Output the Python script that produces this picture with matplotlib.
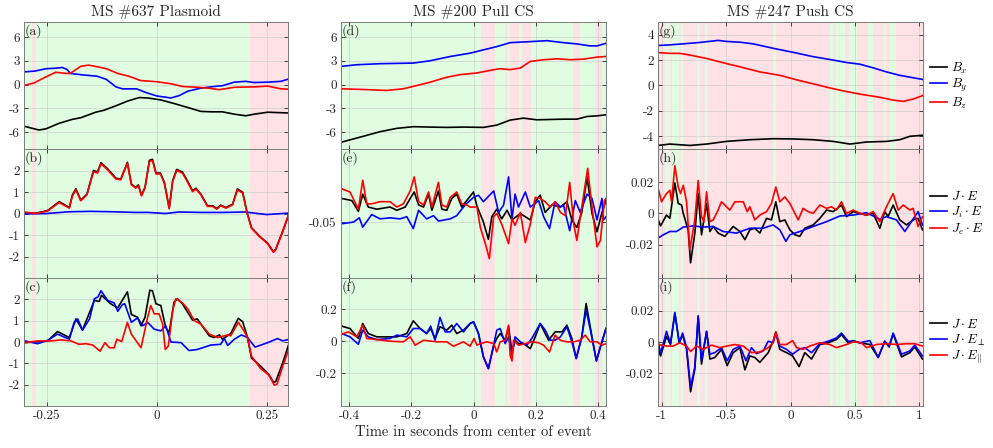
import matplotlib
matplotlib.use("Agg")
import matplotlib.pyplot as plt

plt.rcParams['font.family'] = ['cmr10', 'DejaVu Serif']
plt.rcParams['mathtext.fontset'] = 'cm'
plt.rcParams['axes.unicode_minus'] = False

# ---------------- column 1 : MS #637 Plasmoid ----------------
t_a_bx = [-0.30, -0.268, -0.252, -0.222, -0.192, -0.173, -0.139, -0.12, -0.089, -0.067, -0.04, -0.021,
          0.009, 0.039, 0.07, 0.1, 0.123, 0.149, 0.176, 0.202, 0.221, 0.252, 0.30]
a_bx = [-5.3, -5.75, -5.6, -4.9, -4.4, -4.2, -3.5, -3.25, -2.6, -2.1, -1.65, -1.7,
        -1.95, -2.4, -2.9, -3.4, -3.45, -3.45, -3.75, -3.95, -3.75, -3.5, -3.6]
t_a_by = [-0.30, -0.277, -0.252, -0.233, -0.215, -0.204, -0.197, -0.166, -0.136, -0.115, -0.093, -0.078,
          -0.046, -0.023, 0.0, 0.032, 0.051, 0.07, 0.1, 0.13, 0.149, 0.176, 0.202, 0.221, 0.252, 0.282, 0.30]
a_by = [1.6, 1.7, 2.0, 2.05, 2.15, 1.9, 1.4, 1.2, 1.05, 0.65, -0.3, -0.55,
        -0.55, -1.05, -1.45, -1.7, -1.4, -0.85, -0.45, -0.25, -0.15, 0.3, 0.4, 0.25, 0.3, 0.4, 0.7]
t_a_bz = [-0.30, -0.279, -0.256, -0.23, -0.207, -0.197, -0.173, -0.155, -0.136, -0.115, -0.089, -0.064,
          -0.037, 0.0, 0.032, 0.058, 0.093, 0.116, 0.142, 0.176, 0.221, 0.252, 0.282, 0.30]
a_bz = [-0.1, 0.2, 0.85, 1.55, 1.4, 1.4, 2.3, 2.45, 2.25, 2.0, 1.4, 1.05,
        0.5, 0.35, 0.1, -0.25, -0.35, -0.45, -0.65, -0.35, -0.3, -0.2, -0.55, -0.6]

t_b = [-0.299, -0.275, -0.248, -0.222, -0.199, -0.192, -0.184, -0.173, -0.159, -0.144,
       -0.135, -0.127, -0.112, -0.093, -0.082, -0.067, -0.058, -0.048, -0.042, -0.035,
       -0.027, -0.017, -0.01, -0.002, 0.008, 0.017, 0.028, 0.036, 0.045, 0.058,
       0.066, 0.081, 0.089, 0.1, 0.115, 0.127, 0.136, 0.145, 0.157, 0.172,
       0.183, 0.195, 0.205, 0.215, 0.233, 0.252, 0.265, 0.27, 0.286, 0.301]
b_tot = [0.04, 0.01, 0.14, 0.55, 0.28, 0.86, 1.15, 0.62, 0.9, 2.0,
         1.93, 2.36, 2.08, 1.64, 1.6, 2.38, 1.37, 1.22, 1.33, 0.85,
         1.22, 2.47, 2.52, 1.88, 1.88, 1.45, 0.25, 1.54, 2.05, 1.93,
         1.65, 1.06, 1.17, 0.9, 0.36, 0.36, 0.23, 0.39, 0.28, 0.43,
         1.14, 0.99, 0.04, -0.66, -1.05, -1.39, -1.78, -1.66, -0.82, 0.02]
b_je = [0.06, 0.0, 0.12, 0.51, 0.25, 0.82, 1.1, 0.59, 0.87, 1.95,
        1.88, 2.31, 2.03, 1.6, 1.57, 2.34, 1.33, 1.18, 1.29, 0.82,
        1.18, 2.42, 2.47, 1.84, 1.84, 1.41, 0.22, 1.49, 2.0, 1.88,
        1.6, 1.02, 1.13, 0.87, 0.33, 0.33, 0.2, 0.36, 0.25, 0.4,
        1.1, 0.95, 0.02, -0.68, -1.07, -1.41, -1.81, -1.69, -0.84, 0.02]
t_b_ji = [-0.3, -0.25, -0.2, -0.15, -0.1, -0.05, -0.02, 0.02, 0.05, 0.1, 0.15, 0.2, 0.25, 0.3]
b_ji = [-0.02, 0.0, 0.08, 0.1, 0.08, 0.05, 0.05, 0.0, 0.07, 0.05, 0.05, 0.07, -0.05, 0.02]

t_c_tot = [-0.299, -0.248, -0.226, -0.199, -0.184, -0.169, -0.142, -0.131, -0.126, -0.105, -0.089,
           -0.067, -0.058, -0.044, -0.036, -0.027, -0.016, -0.01, -0.002, 0.009, 0.02, 0.028,
           0.039, 0.047, 0.058, 0.081, 0.092, 0.1, 0.119, 0.13, 0.142, 0.149, 0.168, 0.185,
           0.195, 0.206, 0.215, 0.236, 0.254, 0.265, 0.27, 0.286, 0.301]
c_tot = [-0.03, 0.05, 0.49, 0.21, 1.08, 0.56, 1.95, 1.9, 2.19, 1.79, 1.6,
         2.35, 1.29, 1.16, 0.76, 1.16, 2.43, 2.4, 1.79, 1.71, 0.68, 0.44,
         1.87, 2.03, 1.79, 1.03, 1.08, 0.84, 0.29, 0.21, 0.33, 0.13, 0.4, 1.11,
         0.95, 0.21, -0.75, -1.14, -1.51, -1.89, -1.86, -0.98, -0.03]
t_c_perp = [-0.3, -0.271, -0.248, -0.226, -0.199, -0.188, -0.18, -0.169, -0.153, -0.142, -0.134,
            -0.127, -0.112, -0.097, -0.089, -0.078, -0.073, -0.058, -0.044, -0.032, -0.021, -0.006,
            0.009, 0.02, 0.032, 0.055, 0.073, 0.092, 0.123, 0.145, 0.153, 0.161, 0.176, 0.192,
            0.206, 0.223, 0.252, 0.274, 0.286, 0.301]
c_perp = [0.05, -0.08, 0.08, 0.37, 0.13, 0.92, 1.08, 0.56, 1.08, 2.03, 2.11,
          2.4, 1.95, 1.83, 1.44, 1.76, 1.79, 0.92, 1.13, 0.76, 0.92, 0.6,
          0.52, 0.76, 0.0, -0.03, -0.4, -0.35, -0.14, -0.11, 0.17, -0.16, 0.13, 0.33,
          0.21, -0.24, -0.03, 0.16, 0.05, 0.13]
t_c_par = [-0.3, -0.271, -0.241, -0.218, -0.195, -0.177, -0.161, -0.146, -0.129, -0.118, -0.108,
           -0.097, -0.091, -0.08, -0.067, -0.058, -0.036, -0.021, -0.014, -0.006, 0.005, 0.013,
           0.019, 0.026, 0.036, 0.043, 0.058, 0.07, 0.085, 0.1, 0.119, 0.138, 0.161, 0.168,
           0.185, 0.198, 0.206, 0.215, 0.236, 0.254, 0.267, 0.273, 0.286, 0.301]
c_par = [-0.03, 0.05, 0.05, 0.1, 0.05, -0.11, -0.08, -0.14, -0.43, -0.03, -0.27,
         -0.27, 0.13, 0.02, 0.92, 0.37, -0.27, 1.16, 1.71, 1.32, 1.32, 0.84,
         -0.35, -0.19, 1.48, 2.03, 1.83, 1.56, 1.0, 0.84, 0.37, 0.21, 0.33, 0.29,
         0.92, 0.52, 0.21, -0.67, -1.25, -1.54, -2.02, -1.98, -1.14, -0.27]

# ---------------- column 2 : MS #200 Pull CS ----------------
t_d_bx = [-0.427, -0.355, -0.301, -0.247, -0.194, -0.14, -0.086, -0.032, 0.032, 0.075, 0.118,
          0.161, 0.204, 0.29, 0.333, 0.366, 0.398, 0.427]
d_bx = [-7.3, -6.54, -5.96, -5.54, -5.33, -5.38, -5.42, -5.38, -5.42, -5.13, -4.5,
        -4.25, -4.46, -4.38, -4.38, -4.04, -3.96, -3.83]
t_d_by = [-0.427, -0.376, -0.301, -0.194, -0.14, -0.075, -0.011, 0.032, 0.075, 0.118, 0.183,
          0.237, 0.29, 0.333, 0.376, 0.398, 0.427]
d_by = [2.29, 2.5, 2.63, 2.71, 3.0, 3.54, 3.96, 4.38, 4.79, 5.29, 5.42,
        5.54, 5.29, 5.13, 4.88, 4.88, 5.21]
t_d_bz = [-0.427, -0.355, -0.28, -0.226, -0.183, -0.14, -0.086, -0.043, 0.011, 0.054, 0.086,
          0.118, 0.151, 0.183, 0.226, 0.269, 0.312, 0.355, 0.398, 0.427]
d_bz = [-0.54, -0.63, -0.75, -0.54, -0.13, 0.29, 0.92, 1.25, 1.46, 1.79, 2.0,
        1.88, 2.08, 2.92, 3.13, 3.25, 3.13, 3.21, 3.46, 3.54]

t_e_tot = [-0.425, -0.392, -0.371, -0.357, -0.339, -0.312, -0.269, -0.247, -0.22, -0.204, -0.191,
           -0.177, -0.161, -0.145, -0.134, -0.113, -0.102, -0.086, -0.07, -0.054, -0.038, -0.022,
           0.0, 0.011, 0.032, 0.048, 0.059, 0.075, 0.091, 0.108, 0.124, 0.151, 0.183, 0.199,
           0.215, 0.231, 0.253, 0.28, 0.301, 0.317, 0.333, 0.349, 0.366, 0.382, 0.398, 0.414, 0.427]
e_tot = [-0.028, -0.03, -0.04, -0.024, -0.036, -0.038, -0.036, -0.039, -0.036, -0.028, -0.022,
         -0.034, -0.036, -0.024, -0.039, -0.021, -0.038, -0.039, -0.028, -0.024, -0.036, -0.03,
         -0.022, -0.035, -0.05, -0.066, -0.045, -0.038, -0.047, -0.039, -0.048, -0.042, -0.048, -0.031,
         -0.025, -0.041, -0.034, -0.036, -0.031, -0.048, -0.055, -0.041, -0.008, -0.042, -0.059, -0.041, -0.03]
t_e_ji = [-0.425, -0.387, -0.368, -0.357, -0.328, -0.301, -0.269, -0.237, -0.215, -0.194, -0.177,
          -0.151, -0.129, -0.113, -0.075, -0.054, -0.027, 0.0, 0.016, 0.032, 0.065, 0.081,
          0.097, 0.113, 0.124, 0.134, 0.145, 0.167, 0.183, 0.21, 0.226, 0.245, 0.263, 0.28,
          0.29, 0.31, 0.328, 0.344, 0.366, 0.382, 0.398, 0.414, 0.419, 0.427]
e_ji = [-0.0515, -0.05, -0.046, -0.0547, -0.043, -0.047, -0.046, -0.047, -0.045, -0.056, -0.039,
        -0.047, -0.044, -0.049, -0.047, -0.044, -0.034, -0.027, -0.025, -0.031, -0.021, -0.041,
        -0.034, -0.008, -0.047, -0.024, -0.036, -0.022, -0.036, -0.03, -0.045, -0.056, -0.031, -0.036,
        -0.034, -0.058, -0.03, -0.041, -0.024, -0.028, -0.048, -0.028, -0.048, -0.045]
t_e_je = [-0.425, -0.398, -0.371, -0.357, -0.344, -0.328, -0.301, -0.269, -0.247, -0.226, -0.204,
          -0.191, -0.177, -0.161, -0.145, -0.134, -0.113, -0.102, -0.086, -0.075, -0.054, -0.038,
          -0.022, -0.011, 0.011, 0.022, 0.038, 0.051, 0.065, 0.075, 0.091, 0.113, 0.124, 0.134,
          0.151, 0.167, 0.183, 0.199, 0.215, 0.231, 0.247, 0.263, 0.28, 0.296, 0.31, 0.323,
          0.333, 0.349, 0.368, 0.382, 0.398, 0.409, 0.422, 0.427]
e_je = [-0.019, -0.022, -0.038, -0.011, -0.033, -0.033, -0.031, -0.031, -0.036, -0.033, -0.021,
        -0.008, -0.031, -0.034, -0.022, -0.036, -0.013, -0.034, -0.036, -0.027, -0.022, -0.033,
        -0.034, -0.036, -0.036, -0.055, -0.07, -0.084, -0.045, -0.042, -0.052, -0.07, -0.047, -0.053,
        -0.041, -0.069, -0.052, -0.027, -0.028, -0.031, -0.036, -0.031, -0.041, -0.044, -0.013, -0.052,
        -0.067, -0.036, 0.0, -0.036, -0.073, -0.067, -0.03, -0.028]

t_f_tot = [-0.425, -0.398, -0.371, -0.357, -0.339, -0.312, -0.28, -0.247, -0.215, -0.194, -0.172,
           -0.151, -0.138, -0.124, -0.108, -0.086, -0.07, -0.054, -0.032, -0.011, 0.0, 0.016,
           0.032, 0.048, 0.065, 0.075, 0.086, 0.102, 0.113, 0.124, 0.134, 0.145, 0.161, 0.183,
           0.199, 0.215, 0.231, 0.242, 0.263, 0.285, 0.301, 0.317, 0.331, 0.349, 0.363, 0.378,
           0.396, 0.409, 0.427]
f_tot = [0.094, 0.079, 0.017, 0.11, 0.048, 0.027, 0.027, 0.027, 0.048, 0.127, 0.079,
         0.048, 0.079, 0.017, 0.09, 0.069, 0.1, 0.048, 0.069, 0.11, 0.121, 0.048,
         -0.098, -0.171, -0.025, 0.017, 0.048, 0.006, 0.09, -0.067, 0.006, -0.015, -0.015, -0.046,
         0.027, 0.11, 0.048, 0.006, 0.058, 0.058, 0.1, 0.017, -0.108, 0.027, 0.235, 0.069,
         -0.123, -0.035, 0.079]
t_f_perp = [-0.425, -0.398, -0.371, -0.357, -0.339, -0.312, -0.269, -0.247, -0.215, -0.194, -0.172,
            -0.151, -0.138, -0.124, -0.108, -0.091, -0.075, -0.054, -0.032, -0.011, 0.0, 0.016,
            0.032, 0.048, 0.065, 0.075, 0.086, 0.102, 0.113, 0.124, 0.134, 0.151, 0.172, 0.188,
            0.215, 0.231, 0.247, 0.263, 0.28, 0.301, 0.317, 0.331, 0.349, 0.363, 0.378, 0.396,
            0.409, 0.427]
f_perp = [0.048, 0.027, -0.019, 0.069, 0.027, 0.01, 0.017, 0.038, 0.027, 0.079, 0.079,
          0.048, 0.094, 0.006, 0.148, 0.058, 0.058, 0.11, 0.058, 0.11, 0.121, 0.048,
          -0.098, -0.171, -0.025, 0.069, 0.079, -0.015, 0.027, -0.088, 0.027, -0.004, -0.025, 0.017,
          0.11, 0.069, 0.006, 0.006, 0.027, 0.09, -0.004, -0.108, 0.027, 0.194, 0.058, -0.123,
          -0.035, 0.079]
t_f_par = [-0.425, -0.403, -0.376, -0.357, -0.344, -0.312, -0.269, -0.226, -0.204, -0.188, -0.161,
           -0.118, -0.086, -0.065, -0.032, -0.011, 0.002, 0.011, 0.022, 0.043, 0.065, 0.075,
           0.086, 0.102, 0.113, 0.118, 0.124, 0.129, 0.145, 0.167, 0.188, 0.21, 0.226, 0.245,
           0.263, 0.28, 0.301, 0.323, 0.344, 0.36, 0.376, 0.398, 0.414, 0.427]
f_par = [0.044, 0.058, 0.027, 0.1, 0.017, 0.01, 0.0, -0.004, 0.027, -0.025, 0.006,
         -0.004, -0.004, -0.031, -0.004, -0.031, 0.017, -0.025, -0.015, -0.004, -0.015, -0.067,
         -0.004, 0.006, 0.1, -0.088, -0.123, 0.006, -0.025, -0.015, -0.004, -0.01, -0.025, -0.067,
         0.038, 0.006, -0.004, -0.004, 0.006, 0.038, -0.004, -0.004, -0.025, -0.015]

# ---------------- column 3 : MS #247 Push CS ----------------
t_g_bx = [-1.027, -0.937, -0.782, -0.652, -0.497, -0.316, -0.135, 0.021, 0.176, 0.331, 0.461,
          0.59, 0.745, 0.849, 0.927, 1.025]
g_bx = [-4.72, -4.61, -4.72, -4.61, -4.4, -4.27, -4.19, -4.21, -4.27, -4.4, -4.61,
        -4.45, -4.4, -4.27, -4.0, -3.92]
t_g_by = [-1.027, -0.937, -0.833, -0.704, -0.562, -0.497, -0.393, -0.29, -0.135, 0.021, 0.176,
          0.305, 0.435, 0.538, 0.642, 0.745, 0.849, 0.952, 1.025]
g_by = [3.15, 3.2, 3.28, 3.39, 3.55, 3.47, 3.41, 3.28, 2.93, 2.61, 2.27,
        2.05, 1.81, 1.68, 1.39, 1.07, 0.8, 0.61, 0.48]
t_g_bz = [-1.027, -0.937, -0.859, -0.782, -0.652, -0.523, -0.393, -0.238, -0.083, 0.047, 0.176,
          0.305, 0.435, 0.564, 0.694, 0.797, 0.875, 0.952, 1.025]
g_bz = [2.59, 2.53, 2.53, 2.4, 2.13, 1.79, 1.47, 1.07, 0.8, 0.45, 0.13,
        -0.19, -0.48, -0.72, -0.93, -1.15, -1.25, -1.07, -0.8]

t_h_tot = [-1.027, -1.009, -0.963, -0.937, -0.898, -0.872, -0.846, -0.833, -0.795, -0.776, -0.743,
           -0.717, -0.691, -0.652, -0.626, -0.6, -0.562, -0.51, -0.445, -0.393, -0.354, -0.316,
           -0.277, -0.238, -0.186, -0.148, -0.114, -0.083, -0.044, -0.005, 0.034, 0.072, 0.111,
           0.176, 0.228, 0.28, 0.331, 0.396, 0.435, 0.487, 0.538, 0.59, 0.642, 0.694, 0.732,
           0.758, 0.797, 0.849, 0.901, 0.952, 0.991, 1.025]
h_tot = [-0.0042, -0.008, -0.0011, -0.0032, 0.0194, 0.0063, 0.0053, 0.0, -0.0105, -0.0316, -0.0126,
         0.0126, -0.0137, 0.0063, -0.0116, -0.0084, -0.0126, -0.0147, -0.0084, -0.0116, -0.0168, -0.0105,
         -0.0095, -0.0126, -0.0032, -0.0042, 0.0074, -0.0053, -0.0042, -0.0105, -0.0137, -0.0147, -0.0095,
         -0.0074, -0.0032, 0.0021, 0.0011, 0.0053, -0.0021, 0.0011, 0.0, -0.0011, 0.0, -0.0095, 0.0011,
         -0.0021, 0.0053, -0.0042, -0.0074, -0.0042, -0.0032, -0.0105]
t_h_ji = [-1.027, -0.988, -0.937, -0.885, -0.833, -0.756, -0.678, -0.6, -0.523, -0.419, -0.316,
          -0.212, -0.135, -0.083, -0.036, -0.005, 0.072, 0.176, 0.28, 0.383, 0.487, 0.59,
          0.694, 0.745, 0.823, 0.888, 0.939, 0.991, 1.025]
h_ji = [-0.0158, -0.0137, -0.0116, -0.0116, -0.0088, -0.008, -0.0088, -0.0084, -0.0116, -0.0126, -0.0095,
        -0.0095, -0.0074, -0.0105, -0.0179, -0.0137, -0.0116, -0.0084, -0.0053, -0.0017, -0.0011, 0.0004,
        -0.0038, -0.0021, -0.0042, -0.0116, -0.0053, 0.0011, -0.0074]
t_h_je = [-1.027, -1.002, -0.963, -0.937, -0.924, -0.898, -0.872, -0.854, -0.833, -0.807, -0.782,
          -0.743, -0.717, -0.691, -0.673, -0.652, -0.626, -0.6, -0.562, -0.536, -0.471, -0.432,
          -0.367, -0.336, -0.316, -0.277, -0.238, -0.186, -0.148, -0.114, -0.083, -0.044, -0.005,
          0.06, 0.098, 0.137, 0.176, 0.228, 0.28, 0.318, 0.357, 0.396, 0.435, 0.487, 0.538,
          0.59, 0.642, 0.694, 0.745, 0.797, 0.836, 0.875, 0.927, 0.952, 0.991, 1.025]
h_je = [0.0158, 0.0074, 0.0126, 0.0147, 0.0074, 0.0305, 0.0168, 0.0126, 0.0179, 0.0074, -0.0232,
        -0.0042, 0.021, -0.0021, -0.0053, 0.0137, -0.0053, -0.0042, 0.0021, 0.0074, 0.0021, 0.0074,
        0.0074, 0.0011, 0.0042, -0.0042, -0.0011, 0.0011, 0.0063, 0.0168, 0.0074, 0.0105, 0.0063,
        -0.0042, 0.0032, 0.0011, 0.0, 0.0053, 0.0032, 0.0042, 0.0021, 0.0074, 0.0, 0.0021, 0.0,
        -0.0011, 0.0011, -0.0053, 0.0042, 0.0126, 0.0021, 0.0053, 0.0021, 0.0032, -0.0084, -0.0021]

t_i_tot = [-1.027, -1.009, -0.963, -0.932, -0.898, -0.864, -0.838, -0.807, -0.776, -0.743, -0.717,
           -0.691, -0.652, -0.626, -0.588, -0.536, -0.492, -0.445, -0.393, -0.354, -0.316, -0.277,
           -0.238, -0.173, -0.135, -0.114, -0.083, -0.031, 0.016, 0.067, 0.111, 0.163, 0.228,
           0.292, 0.357, 0.396, 0.448, 0.487, 0.538, 0.616, 0.681, 0.732, 0.766, 0.797, 0.862,
           0.927, 0.965, 1.025]
i_tot = [-0.0046, -0.0088, 0.0037, -0.0015, 0.0183, -0.0004, 0.0048, -0.0046, -0.0317, -0.0171, 0.0163,
         -0.014, 0.0069, -0.0108, -0.0098, -0.0046, -0.015, -0.0067, -0.0035, -0.0177, -0.0088, -0.0098,
         -0.0129, -0.0067, 0.0006, 0.0065, -0.0046, -0.0067, -0.0088, -0.0156, -0.0067, -0.0108, -0.0015,
         -0.0004, 0.0017, 0.0048, -0.0004, 0.001, -0.0004, -0.0015, -0.0098, 0.0006, -0.0031, 0.0052, -0.0094,
         -0.0067, -0.0031, -0.0108]
t_i_perp = [-1.027, -1.009, -0.963, -0.932, -0.898, -0.864, -0.838, -0.807, -0.776, -0.743, -0.717,
            -0.691, -0.652, -0.626, -0.588, -0.536, -0.492, -0.445, -0.393, -0.346, -0.303, -0.264,
            -0.212, -0.173, -0.135, -0.114, -0.083, -0.031, 0.016, 0.067, 0.111, 0.163, 0.228,
            0.292, 0.357, 0.396, 0.448, 0.487, 0.538, 0.616, 0.681, 0.732, 0.766, 0.797, 0.862,
            0.927, 0.965, 1.025]
i_perp = [0.0006, -0.0073, 0.0069, -0.001, 0.019, -0.0004, 0.0058, -0.0035, -0.0285, -0.016, 0.0169,
          -0.0119, 0.0069, -0.0077, -0.0067, -0.0035, -0.0119, -0.0046, -0.0025, -0.0119, -0.0035, -0.0073,
          -0.0056, 0.0006, -0.0004, 0.0058, -0.0025, -0.0046, -0.0077, -0.0046, -0.0035, -0.0067, -0.001,
          0.0006, 0.0027, 0.0058, 0.0006, 0.0006, -0.0004, 0.001, -0.0098, 0.0006, -0.0025, 0.0058, -0.0077,
          -0.0056, -0.0019, -0.0088]
t_i_par = [-1.027, -0.963, -0.911, -0.859, -0.807, -0.776, -0.73, -0.678, -0.613, -0.549, -0.497,
           -0.432, -0.367, -0.303, -0.238, -0.173, -0.135, -0.114, -0.083, -0.031, 0.016, 0.047,
           0.098, 0.15, 0.228, 0.305, 0.357, 0.435, 0.487, 0.551, 0.59, 0.668, 0.745, 0.823,
           0.901, 0.965, 1.025]
i_par = [-0.0015, -0.0025, -0.0025, -0.0004, -0.0025, -0.006, -0.0025, -0.0046, -0.0019, -0.0035, -0.0025,
         -0.0015, -0.0025, -0.0067, -0.0063, -0.0035, -0.0004, 0.0065, -0.0015, -0.0015, 0.001, -0.0035,
         -0.0046, -0.0025, -0.0004, -0.0015, -0.0035, -0.0015, 0.0002, -0.0004, -0.0035, -0.0015, -0.001,
         -0.0015, -0.001, -0.001, -0.0025]

# shaded intervals (pink on green for col 1,2; green on pink for col 3)
pink_1 = [(-0.283, -0.274), (0.211, 0.31)]
pink_2 = [(0.024, 0.070), (0.103, 0.111), (0.118, 0.148), (0.156, 0.186), (0.32, 0.344), (0.393, 0.414)]
green_3 = [(-0.976, -0.937), (-0.924, -0.865), (-0.854, -0.834), (-0.730, -0.704), (-0.665, -0.647),
           (-0.135, -0.109), (0.305, 0.331), (0.357, 0.375), (0.383, 0.422), (0.455, 0.517),
           (0.603, 0.641), (0.727, 0.745), (0.776, 0.818)]

titles = ["MS #637 Plasmoid", "MS #200 Pull CS", "MS #247 Push CS"]
letters = [["(a)", "(b)", "(c)"], ["(d)", "(e)", "(f)"], ["(g)", "(h)", "(i)"]]
legend_rows = [[r"$B_x$", r"$B_y$", r"$B_z$"],
               [r"$J\cdot E$", r"$J_i\cdot E$", r"$J_e\cdot E$"],
               [r"$J\cdot E$", r"$J\cdot E_{\perp}$", r"$J\cdot E_{\Vert}$"]]

GREEN = '#e1fde1'
PINK = '#fee2e5'
cols = ['black', '#0000ff', '#ff0000']

xlims = [(-0.302, 0.298), (-0.427, 0.427), (-1.029, 1.029)]
xticks = [[-0.25, 0, 0.25], [-0.4, -0.2, 0, 0.2, 0.4], [-1, -0.5, 0, 0.5, 1]]
xticklabels = [["-0.25", "0", "0.25"], ["-0.4", "-0.2", "0", "0.2", "0.4"], ["-1", "-0.5", "0", "0.5", "1"]]

ylims = [[(-8.15, 7.9), (-3, 3), (-3, 3)],
         [(-8.15, 7.9), (-0.102, 0.018), (-0.404, 0.394)],
         [(-5, 5), (-0.0413, 0.0411), (-0.0408, 0.0410)]]
yticks = [[[-6, -3, 0, 3, 6], [-2, -1, 0, 1, 2], [-2, -1, 0, 1, 2]],
          [[-6, -3, 0, 3, 6], [-0.05], [-0.2, 0, 0.2]],
          [[-4, -2, 0, 2, 4], [-0.02, 0, 0.02], [-0.02, 0, 0.02]]]
yticklabels = [[["-6", "-3", "0", "3", "6"], ["-2", "-1", "0", "1", "2"], ["-2", "-1", "0", "1", "2"]],
               [["-6", "-3", "0", "3", "6"], ["-0.05"], ["-0.2", "0", "0.2"]],
               [["-4", "-2", "0", "2", "4"], ["-0.02", "0", "0.02"], ["-0.02", "0", "0.02"]]]

series = [
    [[(t_a_bx, a_bx), (t_a_by, a_by), (t_a_bz, a_bz)],
     [(t_b, b_tot), (t_b_ji, b_ji), (t_b, b_je)],
     [(t_c_tot, c_tot), (t_c_perp, c_perp), (t_c_par, c_par)]],
    [[(t_d_bx, d_bx), (t_d_by, d_by), (t_d_bz, d_bz)],
     [(t_e_tot, e_tot), (t_e_ji, e_ji), (t_e_je, e_je)],
     [(t_f_tot, f_tot), (t_f_perp, f_perp), (t_f_par, f_par)]],
    [[(t_g_bx, g_bx), (t_g_by, g_by), (t_g_bz, g_bz)],
     [(t_h_tot, h_tot), (t_h_ji, h_ji), (t_h_je, h_je)],
     [(t_i_tot, i_tot), (t_i_perp, i_perp), (t_i_par, i_par)]],
]

fig = plt.figure(figsize=(9.93, 4.48), dpi=100)
W, H = 993.0, 448.0
col_left = [24, 341, 658]
col_w = [264, 265, 265]
row_top = [22, 149, 278]
row_bot = [149, 278, 406]

for c in range(3):
    for r in range(3):
        ax = fig.add_axes([col_left[c] / W, 1 - row_bot[r] / H,
                           col_w[c] / W, (row_bot[r] - row_top[r]) / H])
        x0, x1 = xlims[c]
        if c < 2:
            ax.axvspan(x0 - 1, x1 + 1, color=GREEN, lw=0, zorder=0)
            for s0, s1 in (pink_1 if c == 0 else pink_2):
                ax.axvspan(s0, s1, color=PINK, lw=0, zorder=0)
        else:
            ax.axvspan(x0 - 1, x1 + 1, color=PINK, lw=0, zorder=0)
            for s0, s1 in green_3:
                ax.axvspan(s0, s1, color=GREEN, lw=0, zorder=0)

        for k, (tt, vv) in enumerate(series[c][r]):
            ax.plot(tt, vv, color=cols[k], lw=1.2, label=legend_rows[r][k], zorder=2 + k * 0.1)

        ax.set_xlim(x0, x1)
        ax.set_ylim(*ylims[c][r])
        ax.set_xticks(xticks[c])
        if r == 2:
            ax.set_xticklabels(xticklabels[c])
        else:
            ax.set_xticklabels([])
        ax.set_yticks(yticks[c][r])
        ax.set_yticklabels(yticklabels[c][r])
        ax.set_axisbelow(True)
        ax.grid(True, color='#c8c8c8', lw=0.5, alpha=0.8)
        ax.tick_params(direction='in', length=3, width=0.6, top=True, right=True,
                       labelsize=9.5, colors='#262626', pad=3)
        for sp in ax.spines.values():
            sp.set_color('#7a7a7a')
            sp.set_linewidth(0.7)
        ax.text(0.004, 0.985, letters[c][r], transform=ax.transAxes, ha='left', va='top',
                fontsize=10, color='#262626')
        if r == 0:
            ax.set_title(titles[c], fontsize=11, color='#262626', pad=4)
        if c == 1 and r == 2:
            ax.set_xlabel("Time in seconds from center of event", fontsize=10.5,
                          color='#262626', labelpad=2)
        if c == 2:
            ax.legend(loc='center left', bbox_to_anchor=(1.0, 0.5), frameon=False,
                      fontsize=9.5, handlelength=1.3, handletextpad=0.3,
                      labelspacing=0.1, borderaxespad=0.15)

fig.savefig("out.png", dpi=100)
